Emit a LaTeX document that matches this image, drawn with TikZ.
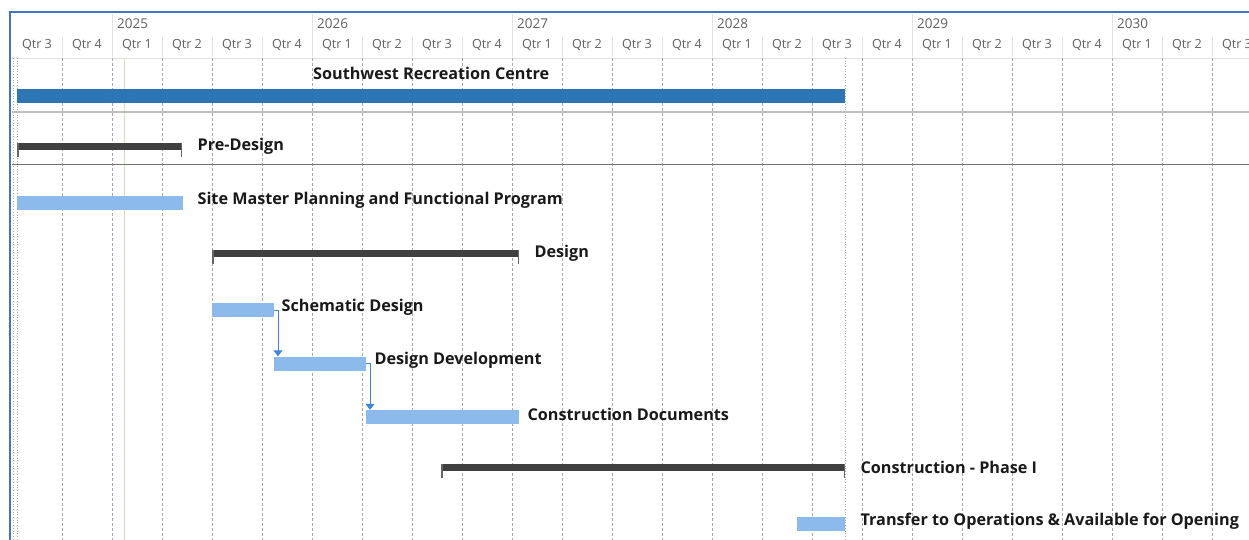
\documentclass[tikz,border=0pt]{standalone}
\usepackage{fontspec}
\setmainfont{Open Sans}
\usetikzlibrary{positioning,arrows.meta}
\definecolor{ganttproject}{HTML}{2E75B6}
\definecolor{gantttask}{HTML}{8CBAEA}
\definecolor{ganttsummary}{HTML}{404040}
\definecolor{ganttlink}{HTML}{3D85D6}
\definecolor{ganttframe}{HTML}{4472C4}
\definecolor{ganttgrid}{HTML}{A8A8A8}
\definecolor{ganttheader}{HTML}{5F5F5F}
\definecolor{ganttnow}{HTML}{C8E2BA}

\begin{document}
\begin{tikzpicture}[x=1pt, y=-1pt,
    taskbar/.style={rectangle, fill=gantttask, inner sep=0pt, minimum height=14pt, anchor=west},
    sumbar/.style={rectangle, fill=ganttsummary, inner sep=0pt, minimum height=7pt, anchor=west},
    sumtick/.style={draw=ganttsummary!80, line width=1.6pt},
    tasklabel/.style={font=\fontsize{16.2}{18}\selectfont\bfseries, text=black!90, inner sep=0pt},
    qtrlabel/.style={font=\fontsize{12.6}{14}\selectfont, text=ganttheader, inner sep=0pt},
    hdrline/.style={draw=black!12, line width=0.8pt},
    gridline/.style={draw=ganttgrid, line width=0.7pt, dash pattern=on 3pt off 2pt},
    link/.style={draw=ganttlink, line width=1pt, -{Triangle[length=6pt, width=9pt]}}]
            \useasboundingbox (0,0) rectangle (1249,540);
            \clip (0,0) rectangle (1249,540);

            % Header
            \foreach \yr [count=\i from 0] in {2025,2026,2027,2028,2029,2030} {
                \node[qtrlabel, font=\fontsize{13.5}{15}\selectfont, anchor=west] (y\yr) at (117+200*\i,24) {\yr};
                \draw[hdrline] (112+200*\i,14) -- (112+200*\i,57);
            }
            \foreach \q [count=\i from 0] in {3,4,1,2,3,4,1,2,3,4,1,2,3,4,1,2,3,4,1,2,3,4,1,2,3} {
                \node[qtrlabel] (q\i) at (37+50*\i,45) {Qtr \q};
                \draw[hdrline] (62+50*\i,37) -- (62+50*\i,57);
            }
            \draw[hdrline] (11,58) -- (1249,58);

            % Grid
            \foreach \i in {1,...,24}
                \draw[gridline] (12+50*\i,58) -- (12+50*\i,540);
            \draw[ganttnow, line width=1pt] (124,58) -- (124,540);
            \draw[ganttgrid, line width=0.7pt, dotted] (13,58) -- (13,540);
            \draw[ganttgrid, line width=0.7pt, dotted] (17,58) -- (17,540);
            \draw[ganttgrid, line width=0.7pt, dotted] (845,58) -- (845,540);
            \draw[black!25, line width=2pt] (12,112) -- (1249,112);
            \draw[black!55, line width=1pt] (12,165) -- (1249,165);

            % Frame
            \draw[ganttframe, line width=2pt] (10,541) -- (10,12) -- (1249,12);

            % Project
            \node[rectangle, fill=ganttproject, inner sep=0pt, minimum height=14pt, minimum width=828pt, anchor=west] (proj) at (17,96)
                {};
            \node[tasklabel, above=9pt of proj] (projlbl) {Southwest Recreation Centre};

            % Pre-design
            \node[sumbar, minimum width=165pt] (predes) at (17,146.5) {};
            \draw[sumtick] ([xshift=0.8pt]predes.north west) -- ++(0,14);
            \draw[sumtick] ([xshift=-0.8pt]predes.north east) -- ++(0,14);
            \node[tasklabel, right=15pt of predes] (predeslbl) {Pre-Design};

            \node[taskbar, minimum width=166pt] (site) at (17,203) {};
            \node[tasklabel, right=14pt of site, yshift=3pt] (sitelbl) {Site Master Planning and Functional Program};

            % Design
            \node[sumbar, minimum width=307pt] (design) at (212,253.5) {};
            \draw[sumtick] ([xshift=0.8pt]design.north west) -- ++(0,14);
            \draw[sumtick] ([xshift=-0.8pt]design.north east) -- ++(0,14);
            \node[tasklabel, right=15pt of design] (designlbl) {Design};

            \node[taskbar, minimum width=62pt] (schem) at (212,310) {};
            \node[tasklabel, right=7pt of schem, yshift=3pt] (schemlbl) {Schematic Design};

            \node[taskbar, minimum width=92pt] (ddev) at (274,363.5) {};
            \node[tasklabel, right=8pt of ddev, yshift=3pt] (ddevlbl) {Design Development};

            \node[taskbar, minimum width=153pt] (cdoc) at (366,417) {};
            \node[tasklabel, right=8pt of cdoc, yshift=3pt] (cdoclbl) {Construction Documents};

            \draw[link] (schem.east) -| ([xshift=4pt]ddev.north west);
            \draw[link] (ddev.east) -| ([xshift=4pt]cdoc.north west);

            % Construction
            \node[sumbar, minimum width=404pt] (constr) at (441,467.5) {};
            \draw[sumtick] ([xshift=0.8pt]constr.north west) -- ++(0,14);
            \draw[sumtick] ([xshift=-0.8pt]constr.north east) -- ++(0,14);
            \node[tasklabel, right=15pt of constr] (constrlbl) {Construction - Phase I};

            \node[taskbar, minimum width=48pt] (transfer) at (797,524) {};
            \node[tasklabel, right=15pt of transfer, yshift=3pt] (transferlbl) {Transfer to Operations \& Available for Opening};
        \end{tikzpicture}
\end{document}
